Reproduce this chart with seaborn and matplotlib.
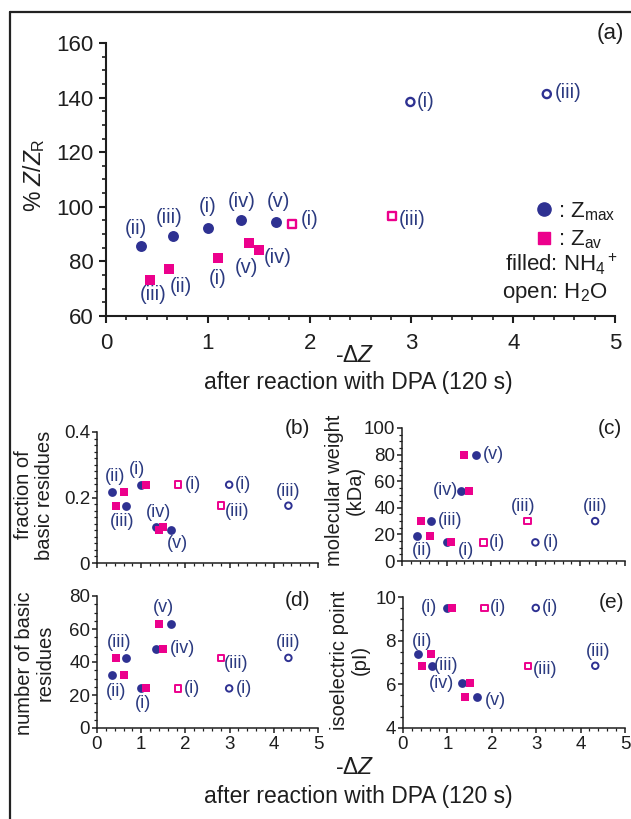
import matplotlib
matplotlib.use("Agg")
import matplotlib.pyplot as plt
import seaborn as sns
import pandas as pd
from matplotlib.ticker import MultipleLocator, FuncFormatter
from matplotlib.lines import Line2D

# ---------------- data ----------------
proteins = ["(i)", "(ii)", "(iii)", "(iv)", "(v)"]
# -dZ after reaction with DPA (120 s), NH4+ solution (filled symbols)
dz_zmax_nh4 = [1.00, 0.34, 0.66, 1.33, 1.67]
dz_zav_nh4 = [1.10, 0.62, 0.43, 1.50, 1.40]
pct_zmax_nh4 = [92.3, 85.7, 89.4, 95.0, 94.5]
pct_zav_nh4 = [81.2, 77.1, 73.2, 84.1, 86.7]
# H2O solution (open symbols), proteins (i) and (iii)
h2o_index = [0, 2]
dz_zmax_h2o = [2.99, 4.33]
dz_zav_h2o = [1.83, 2.81]
pct_zmax_h2o = [138.4, 141.3]
pct_zav_h2o = [93.7, 96.6]
# protein properties
frac_basic = [0.239, 0.217, 0.175, 0.110, 0.100]
mol_weight = [14, 19, 30, 53, 80]
n_basic = [24, 32, 42.5, 48, 63]
iso_point = [9.5, 7.4, 6.85, 6.05, 5.4]

NAVY = "#2e3192"
PINK = "#ec008c"
LAB = "#2b3a80"
TXT = "#1e1e1e"

sns.set_style("ticks")
plt.rcParams["font.family"] = ["Liberation Sans", "DejaVu Sans"]
plt.rcParams["mathtext.fontset"] = "custom"
plt.rcParams["mathtext.rm"] = "Liberation Sans"
plt.rcParams["mathtext.it"] = "Liberation Sans:italic"
plt.rcParams["mathtext.bf"] = "Liberation Sans:bold"

W, H = 631, 819
fig = plt.figure(figsize=(W / 100, H / 100), dpi=100)


def rect(l, r, t, b):
    return [l / W, (H - b) / H, (r - l) / W, (b - t) / H]


ax_a = fig.add_axes(rect(106, 615, 43, 316))
ax_b = fig.add_axes(rect(97, 318, 432, 563))
ax_c = fig.add_axes(rect(402, 625, 428, 561))
ax_d = fig.add_axes(rect(97, 318, 596, 728))
ax_e = fig.add_axes(rect(403, 625, 597, 728))


def series(yvals_nh4_max, yvals_nh4_av, yvals_h2o_max, yvals_h2o_av):
    return {
        "max_nh4": (dz_zmax_nh4, yvals_nh4_max),
        "av_nh4": (dz_zav_nh4, yvals_nh4_av),
        "max_h2o": (dz_zmax_h2o, yvals_h2o_max),
        "av_h2o": (dz_zav_h2o, yvals_h2o_av),
    }


def draw(ax, data, big):
    s_f = 62 if big else 40
    s_o = 34 if big else 22
    lw_o = 1.7 if big else 1.4
    x, y = data["max_nh4"]
    sns.scatterplot(x=x, y=y, ax=ax, marker="o", s=s_f, color=NAVY, edgecolor=NAVY, linewidth=0, zorder=3)
    x, y = data["av_nh4"]
    sns.scatterplot(x=x, y=y, ax=ax, marker="s", s=s_f, color=PINK, edgecolor=PINK, linewidth=0, zorder=3)
    x, y = data["max_h2o"]
    sns.scatterplot(x=x, y=y, ax=ax, marker="o", s=s_o, color=NAVY, facecolor="none", edgecolor=NAVY, linewidth=lw_o, zorder=3)
    x, y = data["av_h2o"]
    sns.scatterplot(x=x, y=y, ax=ax, marker="s", s=s_o, color=PINK, facecolor="none", edgecolor=PINK, linewidth=lw_o, zorder=3)


def annotate(ax, data, specs, fs):
    for key, idx, dx, dy in specs:
        xs, ys = data[key]
        if key.endswith("h2o"):
            j = h2o_index.index(idx)
        else:
            j = idx
        ax.annotate(proteins[idx], (xs[j], ys[j]), xytext=(dx, dy), textcoords="offset pixels",
                    ha="center", va="center", fontsize=fs, color=LAB, zorder=4)


def style(ax, big, ymin, ymax, ymaj, ymin_loc, xlabels=True, yfmt=None):
    ax.set_xlim(0, 5)
    ax.set_ylim(ymin, ymax)
    ax.xaxis.set_major_locator(MultipleLocator(1))
    ax.xaxis.set_minor_locator(MultipleLocator(0.2))
    ax.yaxis.set_major_locator(MultipleLocator(ymaj))
    ax.yaxis.set_minor_locator(MultipleLocator(ymin_loc))
    sns.despine(ax=ax)
    lw = 1.5 if big else 1.1
    for sp in ["left", "bottom"]:
        ax.spines[sp].set_linewidth(lw)
        ax.spines[sp].set_color(TXT)
    fs = 16 if big else 13.5
    ax.tick_params(which="major", length=5 if big else 3.5, width=lw, color=TXT,
                   labelsize=fs, labelcolor=TXT, pad=4 if big else 1.5)
    ax.tick_params(which="minor", length=3 if big else 2.2, width=lw * 0.8, color=TXT)
    ax.tick_params(axis="x", which="major", pad=7 if big else 2.5)
    if not xlabels:
        ax.tick_params(axis="x", labelbottom=False)
    if yfmt is not None:
        ax.yaxis.set_major_formatter(FuncFormatter(yfmt))
    ax.set_xlabel("")
    ax.set_ylabel("")


# ---------- panel (a) ----------
data_a = series(pct_zmax_nh4, pct_zav_nh4, pct_zmax_h2o, pct_zav_h2o)
draw(ax_a, data_a, True)
style(ax_a, True, 60, 160, 20, 5)
annotate(ax_a, data_a, [
    ("max_nh4", 0, 0, 21), ("max_nh4", 1, -5, 17), ("max_nh4", 2, -4, 18),
    ("max_nh4", 3, 0, 19), ("max_nh4", 4, 2, 20),
    ("av_nh4", 0, 0, -20), ("av_nh4", 1, 12, -17), ("av_nh4", 2, 3, -15),
    ("av_nh4", 3, 19, -7), ("av_nh4", 4, -2, -24),
    ("av_h2o", 0, 17, 4), ("av_h2o", 2, 20, -3),
    ("max_h2o", 0, 15, 0), ("max_h2o", 2, 21, 2),
], 14.5)

leg = ax_a.legend(
    handles=[Line2D([], [], marker="o", ls="none", color=NAVY, ms=9.5),
             Line2D([], [], marker="s", ls="none", color=PINK, ms=9),
             ],
    labels=[": Z$_{\\mathrm{max}}$", ": Z$_{\\mathrm{av}}$"],
    loc="center left", bbox_to_anchor=(0.843, 0.331), frameon=False,
    handlelength=0.8, handletextpad=0.25, labelspacing=0.25, fontsize=16,
    borderpad=0, borderaxespad=0)
for t in leg.get_texts():
    t.set_color(TXT)
ax_a.text(1.006, 0.187, "filled: NH$_4$$^+$", transform=ax_a.transAxes, ha="right", va="center",
          fontsize=16, color=TXT)
ax_a.text(0.985, 0.084, "open: H$_2$O", transform=ax_a.transAxes, ha="right", va="center",
          fontsize=16, color=TXT)

# ---------- panel (b) ----------
data_b = series(frac_basic, frac_basic,
                [frac_basic[i] for i in h2o_index], [frac_basic[i] for i in h2o_index])
draw(ax_b, data_b, False)
style(ax_b, False, 0, 0.4, 0.2, 0.02, xlabels=False, yfmt=lambda v, p: f"{v:g}")
annotate(ax_b, data_b, [
    ("max_nh4", 0, -4, 15), ("max_nh4", 1, 3, 15), ("max_nh4", 2, -4, -16),
    ("max_nh4", 3, 3, 14), ("max_nh4", 4, 7, -13),
    ("av_h2o", 0, 15, 0), ("av_h2o", 2, 16, -6),
    ("max_h2o", 0, 14, 0), ("max_h2o", 2, 0, 14),
], 13)

# ---------- panel (c) ----------
data_c = series(mol_weight, mol_weight,
                [mol_weight[i] for i in h2o_index], [mol_weight[i] for i in h2o_index])
draw(ax_c, data_c, False)
style(ax_c, False, 0, 100, 20, 5, xlabels=False)
annotate(ax_c, data_c, [
    ("max_nh4", 4, 17, 0), ("max_nh4", 3, -16, 0), ("max_nh4", 2, 19, 1),
    ("max_nh4", 1, 5, -15), ("av_nh4", 0, 15, -8),
    ("av_h2o", 0, 13, 0), ("av_h2o", 2, -4, 15),
    ("max_h2o", 0, 16, 0), ("max_h2o", 2, 0, 15),
], 13)

# ---------- panel (d) ----------
data_d = series(n_basic, n_basic,
                [n_basic[i] for i in h2o_index], [n_basic[i] for i in h2o_index])
draw(ax_d, data_d, False)
style(ax_d, False, 0, 80, 20, 5)
annotate(ax_d, data_d, [
    ("max_nh4", 4, -7, 17), ("max_nh4", 2, -7, 15), ("av_nh4", 3, 19, 0),
    ("max_nh4", 1, 4, -16), ("max_nh4", 0, 2, -15),
    ("av_h2o", 0, 14, 0), ("av_h2o", 2, 15, -6),
    ("max_h2o", 0, 15, 0), ("max_h2o", 2, 0, 15),
], 13)

# ---------- panel (e) ----------
data_e = series(iso_point, iso_point,
                [iso_point[i] for i in h2o_index], [iso_point[i] for i in h2o_index])
draw(ax_e, data_e, False)
style(ax_e, False, 4, 10, 2, 0.5)
annotate(ax_e, data_e, [
    ("max_nh4", 0, -18, 0), ("max_nh4", 1, 4, 12), ("max_nh4", 2, 14, 0),
    ("max_nh4", 3, -21, 0), ("max_nh4", 4, 18, -3),
    ("av_h2o", 0, 14, 0), ("av_h2o", 2, 17, -4),
    ("max_h2o", 0, 14, 0), ("max_h2o", 2, 3, 14),
], 13)


# ---------- figure texts ----------
def ftext(x, y, s, **kw):
    kw.setdefault("ha", "center")
    kw.setdefault("va", "center")
    kw.setdefault("color", TXT)
    fig.text(x / W, 1 - y / H, s, **kw)


ftext(34, 175, "% $\\mathit{Z/Z}_{\\mathrm{R}}$", rotation=90, fontsize=16.5)
ftext(355, 356, "-Δ$\\mathit{Z}$", fontsize=16.5)
ftext(358, 383, "after reaction with DPA (120 s)", fontsize=16.5)
ftext(610, 33, "(a)", fontsize=16)
ftext(297, 428, "(b)", fontsize=15)
ftext(610, 428, "(c)", fontsize=15)
ftext(297, 600, "(d)", fontsize=15)
ftext(611, 602, "(e)", fontsize=15)
ftext(34, 495, "fraction of\nbasic residues", rotation=90, fontsize=14.5, linespacing=1.1)
ftext(345, 490, "molecular weight\n(kDa)", rotation=90, fontsize=14.5, linespacing=1.1)
ftext(35, 663, "number of basic\nresidues", rotation=90, fontsize=14.5, linespacing=1.1)
ftext(350, 660, "isoelectric point\n(pI)", rotation=90, fontsize=14.5, linespacing=1.1)
ftext(355, 768, "-Δ$\\mathit{Z}$", fontsize=16.5)
ftext(358, 797, "after reaction with DPA (120 s)", fontsize=16.5)

# figure frame (top and left edges)
fig.add_artist(Line2D([10 / W, 1.0], [1 - 12 / H, 1 - 12 / H], transform=fig.transFigure,
                      color="#222222", lw=1.6))
fig.add_artist(Line2D([10 / W, 10 / W], [1 - 12 / H, 0.0], transform=fig.transFigure,
                      color="#222222", lw=1.6))

fig.savefig("out.png", dpi=100)
